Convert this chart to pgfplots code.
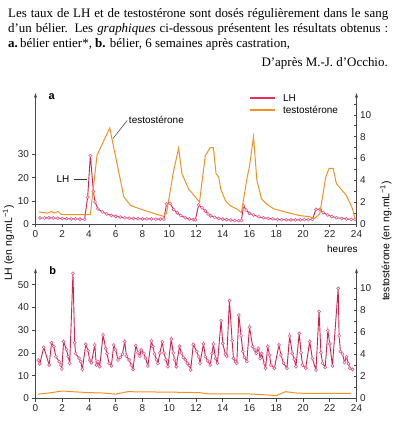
\documentclass[border=0pt]{standalone}
\usepackage{fontspec}
\setmainfont{Liberation Serif}
\newfontfamily\arial{Liberation Sans}
\usepackage{pgfplots}
\pgfplotsset{compat=1.18}
\usetikzlibrary{arrows.meta}
\definecolor{lhred}{RGB}{222,28,72}
\definecolor{lhleg}{RGB}{235,45,95}
\definecolor{lhmark}{RGB}{230,85,140}
\definecolor{torange}{RGB}{242,146,38}
\definecolor{axgray}{RGB}{70,70,70}
\newcommand{\cf}{\arial\fontsize{10}{12}\selectfont}
\pgfplotsset{
  base/.style={scale only axis, width=321bp, xmin=0, xmax=24, ymin=0, clip=false,
    /pgf/number format/assume math mode=true,
    ticklabel style={font=\cf, text=black!85},
    tick style={axgray, line width=0.6bp},
    major tick length=3bp, minor tick length=3bp,
    axis line style={axgray, line width=0.7bp}},
  leftax/.style={base, axis y line=left, axis x line=bottom,
    x axis line style={-}, every outer x axis line/.append style={-},
    y axis line style={-{Stealth[length=5bp,width=3.2bp]}},
    tick align=outside, xtick={0,2,...,24}},
  rightax/.style={base, axis y line*=right, axis x line=none,
    y axis line style={-{Stealth[length=5bp,width=3.2bp]}},
    tick align=inside, ytick={0,2,...,10}},
  lh/.style={lhred, line width=0.9bp, mark=*, mark size=1.5bp,
    mark options={fill=white, draw=lhmark, line width=0.6bp}},
  te/.style={torange, line width=1bp, no marks},
}
\begin{document}
\begin{tikzpicture}
\useasboundingbox (0,0) rectangle (394bp,430bp);
% ---------- text above ----------
\node[anchor=base west, inner sep=0] at (8bp,412.5bp) {\fontsize{13}{15}\selectfont\makebox[380bp][s]{Les taux de LH et de testostérone sont dosés régulièrement dans le sang}};
\node[anchor=base west, inner sep=0] at (8bp,397bp) {\fontsize{13}{15}\selectfont\makebox[380bp][s]{d’un bélier. Les \textit{graphiques} ci-dessous présentent les résultats obtenus :}};
\node[anchor=base west, inner sep=0] at (8bp,382.5bp) {\fontsize{13}{15}\selectfont\textbf{a.}\,bélier entier*, \textbf{b.} bélier, 6 semaines après castration,};
\node[anchor=base east, inner sep=0] at (388bp,363bp) {\fontsize{13}{15}\selectfont D’après M.-J. d’Occhio.};
% ---------- axis labels ----------
\node[rotate=90, inner sep=0] at (8.5bp,187bp) {\arial\fontsize{10.5}{12}\selectfont LH (en ng.mL\textsuperscript{−1})};
\node[rotate=90, inner sep=0] at (386bp,189bp) {\arial\fontsize{10.5}{12}\selectfont testostérone (en ng.mL\textsuperscript{−1})};

% ================= PANEL A =================
\begin{axis}[leftax, at={(35.5bp,206bp)}, anchor=south west, height=131bp, ymax=56.5,
  ytick={0,10,20,30}]
\addplot[lh] coordinates {
(0.33,2.6)(0.67,2.6)(1.0,2.7)(1.33,2.6)(1.67,2.5)(2.0,2.4)(2.33,2.3)(2.67,2.2)(3.0,2.2)(3.33,2.1)(3.67,2.0)
(3.9,11.5)(4.1,29.5)(4.33,14)(4.45,9.5)(4.67,6.5)(5.0,5.2)(5.33,4.3)(5.67,3.7)(6.0,3.3)(6.33,3.0)(6.67,2.7)
(7.0,2.5)(7.33,2.4)(7.67,2.3)(8.0,2.2)(8.33,2.2)(8.67,2.2)(9.0,2.1)(9.33,2.1)(9.6,2.1)
(9.8,8.7)(10.07,8.9)(10.33,6.2)(10.6,4.8)(10.87,3.6)(11.2,2.7)(11.5,2.2)(11.8,1.9)(11.95,1.8)
(12.2,8.2)(12.45,7.0)(12.7,5.6)(12.9,4.3)(13.1,3.5)(13.4,2.9)(13.7,2.4)(14.0,2.1)(14.3,1.9)(14.6,1.7)(14.9,1.5)(15.2,1.4)(15.4,1.5)
(15.55,7.8)(15.75,6.0)(16.0,4.6)(16.3,3.9)(16.7,3.1)(17.05,2.7)(17.4,2.4)(17.75,2.2)(18.1,2.0)(18.4,1.9)(18.75,1.8)
(19.1,1.8)(19.45,1.8)(19.8,1.8)(20.1,1.9)(20.4,1.9)(20.7,2.0)
(20.97,6.3)(21.27,6.3)(21.5,4.9)(21.85,3.9)(22.15,3.2)(22.5,2.7)(22.9,2.4)(23.25,2.2)(23.6,2.0)(23.9,2.0)
};
% legend (colour samples as text rules)
\node[font=\cf, anchor=west, inner sep=0] at (rel axis cs:0.668,0.962)
  {\textcolor{lhleg}{\rule[0.25em]{25bp}{2bp}}\hspace{8bp}LH};
\node[font=\cf, anchor=west, inner sep=0] at (rel axis cs:0.668,0.874)
  {\textcolor{torange}{\rule[0.25em]{25bp}{2bp}}\hspace{8bp}testostérone};
\node[font=\arial\bfseries\fontsize{11}{12}\selectfont] at (axis cs:1.21,54.9) {a};
\node[font=\cf, anchor=west, inner sep=1bp] at (axis cs:6.9,44.8) {testostérone};
\draw[black!80, line width=0.5bp] (axis cs:6.85,44.6) -- (axis cs:5.8,36.9);
\node[font=\cf, inner sep=0] at (axis cs:2.06,19.4) {LH};
\draw[black!80, line width=0.5bp] (axis cs:2.85,19.4) -- (axis cs:3.88,19.4);
\node[font=\cf, anchor=base east, inner sep=0] at (axis cs:24.1,-12.5) {heures};
\end{axis}
\begin{axis}[rightax, at={(35.5bp,206bp)}, anchor=south west, height=131bp, ymax=12.0,
  minor ytick={1,3,...,11}]
\addplot[te] coordinates {
(0.25,1.1)(0.9,1.0)(1.2,1.15)(1.4,1.0)(1.7,1.15)(1.9,0.9)(2.0,0.85)(4.1,0.85)(4.6,6.3)(5.55,8.8)(6.6,2.5)(7.1,1.7)(8.0,1.3)
(9.57,0.7)(9.8,1.0)(10.3,4.7)(10.7,6.95)(10.95,4.6)(11.45,3.2)(11.94,2.5)(12.26,2.0)(12.7,6.27)(13.06,7.0)(13.3,7.0)
(13.5,4.6)(13.7,4.3)(13.85,3.2)(14.2,2.14)(14.55,1.68)(15.05,1.37)(15.4,1.06)(15.8,4.1)(16.0,5.3)(16.3,8.0)(16.55,4.0)
(16.9,2.3)(17.3,1.8)(17.8,1.4)(18.8,1.06)(19.8,0.76)(20.5,0.67)(20.8,0.46)(21.25,0.92)(21.7,4.3)(21.95,5.1)(22.25,5.1)
(22.5,3.7)(23.25,2.6)(23.7,1.4)(23.9,0.46)
};
\end{axis}

% ================= PANEL B =================
\begin{axis}[leftax, at={(35.5bp,31.5bp)}, anchor=south west, height=130bp, ymax=57.1,
  ytick={0,10,...,50}]
\addplot[lh] coordinates {
(0.2,16.9)(0.32,15.2)(0.62,22.5)(1.02,14.7)(1.2,24.5)(1.37,22.8)(1.52,18.4)(1.77,16.2)(1.9,14.7)(1.97,13)
(2.1,25)(2.3,21.6)(2.45,18.4)(2.56,15.5)(2.8,55)(2.93,24.5)(3.0,19.7)(3.26,17.7)(3.38,16.2)(3.5,12.8)
(3.76,23.8)(3.93,21)(4.05,16.9)(4.18,15.7)(4.43,23.5)(4.55,14.7)(4.68,16.2)(4.8,14)(5.05,27.9)(5.25,22)
(5.35,19.7)(5.5,15.5)(5.67,14.3)(5.85,23.5)(6.0,21.3)(6.17,16.9)(6.34,18)(6.5,19.5)(6.67,25)(6.8,18.6)
(7.0,16.9)(7.16,14.7)(7.29,12.8)(7.5,23.2)(7.66,20.1)(7.8,18.6)(7.9,21.3)(8.1,19.7)(8.23,17.7)(8.4,14.3)
(8.66,25.3)(8.78,22.8)(8.9,19.5)(9.05,17)(9.15,15.4)(9.3,20)(9.48,24.9)(9.6,20)(9.75,17)(9.9,14)
(10.15,26.1)(10.3,20)(10.4,17)(10.52,14)(10.77,23.0)(10.9,20)(11.05,18)(11.2,17)(11.35,15.5)(11.5,14.5)
(11.6,12.5)(11.8,23.8)(12.06,20.6)(12.2,18.4)(12.3,15.5)(12.56,24)(12.7,18.4)(12.88,16.5)(13.06,14.7)
(13.2,19.8)(13.3,24)(13.46,17.6)(13.6,15.5)(13.88,34.2)(14.0,24.2)(14.2,19.4)(14.3,18.6)(14.5,43)(14.7,25.4)
(14.8,17.6)(14.95,16.1)(15.05,15.5)(15.2,36.7)(15.37,27.5)(15.5,20.6)(15.62,18.1)(15.8,16.2)(16.0,31.3)
(16.24,22.8)(16.4,21.3)(16.5,19.8)(16.67,22)(16.8,17.6)(16.9,19.8)(17.1,15.5)(17.2,13.3)(17.36,22.8)
(17.5,19.1)(17.6,14.7)(17.86,13.3)(18.2,23.5)(18.35,19.1)(18.55,15.5)(18.8,13.3)(19.0,27.5)(19.2,19.8)
(19.35,17.2)(19.47,14)(19.72,28.6)(19.85,20.1)(19.97,14.7)(20.2,13.3)(20.5,25)(20.7,17.6)(20.97,12.5)
(21.2,38.2)(21.34,20.1)(21.46,15.5)(21.66,13.7)(21.86,29.8)(22.0,24)(22.2,14.3)(22.63,48.4)(22.7,27.5)
(22.8,20.6)(22.96,19.5)(23.1,15.8)(23.25,18.3)(23.4,15.2)(23.5,13.3)(23.7,12.8)
};
\node[font=\arial\bfseries\fontsize{11}{12}\selectfont] at (axis cs:1.29,56.2) {b};
\end{axis}
\begin{axis}[rightax, at={(35.5bp,31.5bp)}, anchor=south west, height=130bp, ymax=11.8,
  minor ytick={1,3,...,9}]
\addplot[te] coordinates {
(0.2,0.4)(1.0,0.5)(2.0,0.68)(3.0,0.6)(4.1,0.53)(5.0,0.5)(6.0,0.4)(6.9,0.62)(8.0,0.6)(10.0,0.58)
(12.3,0.53)(13.0,0.41)(16.0,0.41)(17.0,0.35)(18.0,0.26)(18.7,0.62)(19.5,0.5)(20.2,0.46)(22.0,0.46)(23.6,0.46)
};
\end{axis}
\end{tikzpicture}
\end{document}
